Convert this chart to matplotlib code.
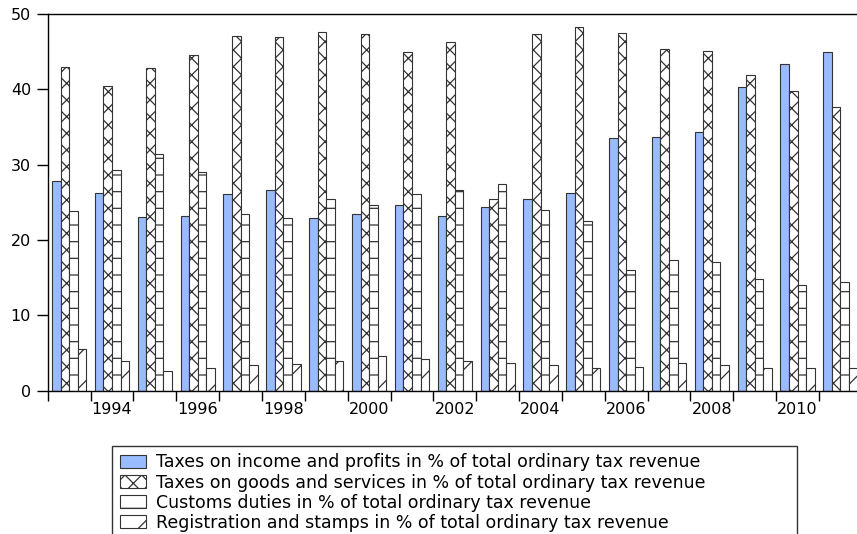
import matplotlib
matplotlib.use("Agg")
import matplotlib.pyplot as plt
import numpy as np

years = list(range(1993, 2012))
income = [27.8, 26.2, 23.0, 23.2, 26.1, 26.7, 22.9, 23.4, 24.7, 23.2,
          24.4, 25.5, 26.3, 33.5, 33.7, 34.3, 40.3, 43.3, 44.9]
goods = [43.0, 40.4, 42.8, 44.6, 47.1, 47.0, 47.6, 47.3, 45.0, 46.3,
         25.5, 47.3, 48.2, 47.4, 45.3, 45.1, 41.9, 39.8, 37.6]
customs = [23.8, 29.3, 31.4, 29.0, 23.4, 22.9, 25.4, 24.7, 26.1, 26.6,
           27.4, 24.0, 22.5, 16.0, 17.3, 17.1, 14.8, 14.0, 14.5]
registration = [5.5, 4.0, 2.7, 3.1, 3.4, 3.5, 4.0, 4.6, 4.2, 3.9,
                3.7, 3.4, 3.0, 3.2, 3.7, 3.4, 3.1, 3.0, 3.0]

labels = ["Taxes on income and profits in % of total ordinary tax revenue",
          "Taxes on goods and services in % of total ordinary tax revenue",
          "Customs duties in % of total ordinary tax revenue",
          "Registration and stamps in % of total ordinary tax revenue"]

plt.rcParams['font.family'] = ['DejaVu Sans']
plt.rcParams['hatch.linewidth'] = 0.9

fig = plt.figure(figsize=(8.57, 5.34), dpi=100)
ax = fig.add_axes([0.0557, 0.268, 0.950, 0.706])

x = np.array(years)
w = 0.2
series = [income, goods, customs, registration]
fills = ['#99bbff', 'white', 'white', 'white']
hatches = [None, 'xx', '-', '/']
for i, (vals, fc, h) in enumerate(zip(series, fills, hatches)):
    ax.bar(x + (i - 1.5) * w, vals, w, color=fc, edgecolor='#333333',
           linewidth=0.8, hatch=h, label=labels[i])

ax.set_xlim(1992.5, 2011.5)
ax.set_ylim(0, 50)
ax.set_yticks([0, 10, 20, 30, 40, 50])
ax.set_xticks(np.arange(1992.5, 2012, 1))
ax.set_xticklabels([])
ax.set_xticks([y for y in years if y % 2 == 0], minor=True)
ax.set_xticklabels([str(y) for y in years if y % 2 == 0], minor=True)
ax.tick_params(axis='x', which='major', direction='out', length=7, width=1)
ax.tick_params(axis='x', which='minor', length=0, labelsize=11.5, pad=8)
ax.tick_params(axis='y', direction='out', length=8, width=1, labelsize=11.5, pad=4)
ax.spines['right'].set_visible(False)
for s in ['left', 'top', 'bottom']:
    ax.spines[s].set_linewidth(1.0)

# legend box stretched to the width of the original frame
leg = fig.legend(loc='upper left', bbox_to_anchor=(0.1307, 0.0, 0.799, 0.1655),
                 mode='expand', fontsize=12.5,
                 frameon=True, fancybox=False, edgecolor='black',
                 handlelength=1.5, handleheight=0.75, handletextpad=0.57,
                 labelspacing=0.12, borderpad=0.45, borderaxespad=0)
leg.get_frame().set_linewidth(1.0)

fig.savefig("out.png", dpi=100)
